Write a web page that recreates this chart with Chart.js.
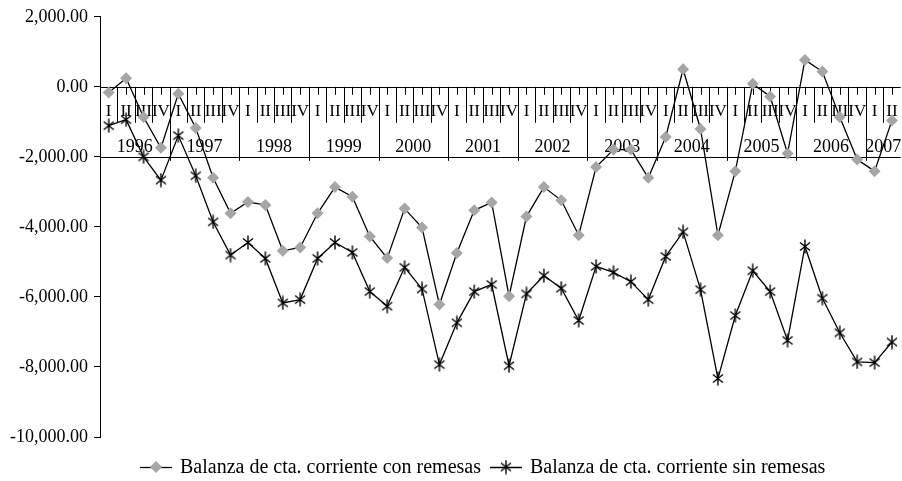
<!DOCTYPE html>
<html>
<head>
<meta charset="utf-8">
<script src="https://cdn.jsdelivr.net/npm/chart.js@4.4.0/dist/chart.umd.min.js"></script>
<style>
  html, body { margin: 0; padding: 0; background: #fff; overflow: hidden; }
  #wrap { width: 908px; height: 481px; }
</style>
</head>
<body>
<div id="wrap"><canvas id="chart" width="908" height="481"></canvas></div>
<script>
const years = ['1996', '1997', '1998', '1999', '2000', '2001', '2002', '2003', '2004', '2005', '2006', '2007'];
const quarters = ['I', 'II', 'III', 'IV'];
const yTicks = [2000, 0, -2000, -4000, -6000, -8000, -10000];

const conRemesas = [
  -162, 247, -862, -1743,
  -199, -1175, -2597, -3611,
  -3289, -3374, -4682, -4587,
  -3611, -2863, -3137, -4274,
  -4891, -3478, -4018, -6218,
  -4748, -3526, -3300, -5980,
  -3705, -2863, -3241, -4237,
  -2290, -1791, -1791, -2597,
  -1431, 503, -1203, -4237,
  -2408, 85, -275, -1905,
  768, 436, -862, -2075,
  -2408, -958
];
const sinRemesas = [
  -1109, -938, -2000, -2664,
  -1393, -2540, -3858, -4805,
  -4445, -4900, -6170, -6076,
  -4900, -4445, -4729, -5848,
  -6265, -5155, -5772, -7933,
  -6739, -5848, -5645, -7965,
  -5914, -5393, -5752, -6673,
  -5127, -5298, -5564, -6076,
  -4843, -4143, -5792, -8331,
  -6531, -5252, -5848, -7242,
  -4558, -6036, -7023, -7856,
  -7876, -7288
];
const seriesNames = ['Balanza de cta. corriente con remesas', 'Balanza de cta. corriente sin remesas'];

// one category per quarter, e.g. "1996 I"
const categories = [];
years.forEach(function(y) {
  quarters.forEach(function(q) { categories.push(y + ' ' + q); });
});
categories.length = conRemesas.length;

const FONT = "'Liberation Serif', 'Times New Roman', serif";
const GRAY = '#a6a6a8';

// asterisk marker (X plus a vertical stroke)
function makeStar() {
  const c = document.createElement('canvas');
  c.width = 14; c.height = 15;
  const g = c.getContext('2d');
  g.strokeStyle = '#000';
  g.lineWidth = 1.4;
  g.beginPath();
  g.moveTo(7, 0.5); g.lineTo(7, 14.5);
  g.moveTo(2, 3.5); g.lineTo(12, 11.5);
  g.moveTo(12, 3.5); g.lineTo(2, 11.5);
  g.stroke();
  return c;
}
const starImg = makeStar();

// draws the quarter / year label box on the zero line
const categoryBox = {
  id: 'categoryBox',
  beforeDatasetsDraw(chart) {
    const ctx = chart.ctx;
    const x = chart.scales.x;
    const area = chart.chartArea;
    const y0 = chart.scales.y.getPixelForValue(0);
    const yb = y0 + 70;
    const n = categories.length;
    const step = x.getPixelForValue(1) - x.getPixelForValue(0);

    ctx.save();
    ctx.strokeStyle = '#000';
    ctx.lineWidth = 1;
    ctx.beginPath();
    ctx.moveTo(area.left, Math.round(y0) + 0.5);
    ctx.lineTo(area.right, Math.round(y0) + 0.5);
    ctx.moveTo(area.left, Math.round(yb) + 0.5);
    ctx.lineTo(area.right, Math.round(yb) + 0.5);
    for (let i = 0; i < n; i++) {
      const cx = Math.round(x.getPixelForValue(i)) + 0.5;
      ctx.moveTo(cx, y0);
      ctx.lineTo(cx, y0 + 8);
      const bx = Math.round(x.getPixelForValue(i) - step / 2) + 0.5;
      if (i === 0) continue;
      ctx.moveTo(bx, y0);
      ctx.lineTo(bx, i % 4 === 0 ? yb + 4 : y0 + 36);
    }
    ctx.stroke();

    ctx.fillStyle = '#000';
    ctx.textAlign = 'center';
    ctx.textBaseline = 'middle';
    ctx.font = '17px ' + FONT;
    for (let i = 0; i < n; i++) {
      ctx.fillText(quarters[i % 4], x.getPixelForValue(i), y0 + 25);
    }
    ctx.font = '18px ' + FONT;
    years.forEach(function(yr, k) {
      const first = k * 4;
      const last = Math.min(first + 3, n - 1);
      if (first >= n) return;
      const mid = (x.getPixelForValue(first) + x.getPixelForValue(last)) / 2;
      ctx.fillText(yr, mid, y0 + 60);
    });
    ctx.restore();
  },
  afterDraw(chart) {
    // legend: short line with the marker in the middle, then the name
    const ctx = chart.ctx;
    const ly = 467;
    let lx = 140;
    ctx.save();
    ctx.font = '20px ' + FONT;
    ctx.textBaseline = 'middle';
    ctx.textAlign = 'left';
    chart.data.datasets.forEach(function(ds, i) {
      ctx.strokeStyle = '#000';
      ctx.lineWidth = 1.3;
      ctx.beginPath();
      ctx.moveTo(lx, ly + 0.5);
      ctx.lineTo(lx + 32, ly + 0.5);
      ctx.stroke();
      if (i === 0) {
        ctx.fillStyle = GRAY;
        ctx.beginPath();
        ctx.moveTo(lx + 16 - 6, ly);
        ctx.lineTo(lx + 16, ly - 6);
        ctx.lineTo(lx + 16 + 6, ly);
        ctx.lineTo(lx + 16, ly + 6);
        ctx.closePath();
        ctx.fill();
      } else {
        ctx.drawImage(starImg, lx + 16 - starImg.width / 2, ly - starImg.height / 2);
      }
      ctx.fillStyle = '#000';
      ctx.fillText(ds.label, lx + 40, ly + 1);
      lx += 40 + ctx.measureText(ds.label).width + 9;
    });
    ctx.restore();
  }
};

new Chart(document.getElementById('chart').getContext('2d'), {
  type: 'line',
  data: {
    labels: categories,
    datasets: [
      {
        label: seriesNames[0],
        data: conRemesas,
        borderColor: '#000',
        borderWidth: 1.3,
        pointStyle: 'rectRot',
        pointRadius: 6,
        pointBackgroundColor: GRAY,
        pointBorderColor: GRAY,
        pointBorderWidth: 0,
        tension: 0
      },
      {
        label: seriesNames[1],
        data: sinRemesas,
        borderColor: '#000',
        borderWidth: 1.3,
        pointStyle: starImg,
        pointRadius: 6,
        tension: 0
      }
    ]
  },
  options: {
    responsive: false,
    animation: false,
    layout: { padding: { top: 15, right: 1, bottom: 44, left: 0 } },
    plugins: {
      legend: { display: false },
      tooltip: { enabled: false }
    },
    scales: {
      x: {
        display: false,
        offset: true
      },
      y: {
        min: -10000,
        max: 2000,
        afterFit: function(scale) { scale.width = 100; },
        afterBuildTicks: function(scale) {
          scale.ticks = yTicks.map(function(v) { return { value: v }; });
        },
        border: { display: true, color: '#000', width: 1 },
        grid: {
          drawOnChartArea: false,
          drawTicks: true,
          tickLength: 6,
          color: '#000'
        },
        ticks: {
          padding: 6,
          color: '#000',
          font: { family: FONT, size: 18 },
          callback: function(v) {
            return v.toLocaleString('en-US', { minimumFractionDigits: 2, maximumFractionDigits: 2 });
          }
        }
      }
    }
  },
  plugins: [categoryBox]
});
</script>
</body>
</html>
